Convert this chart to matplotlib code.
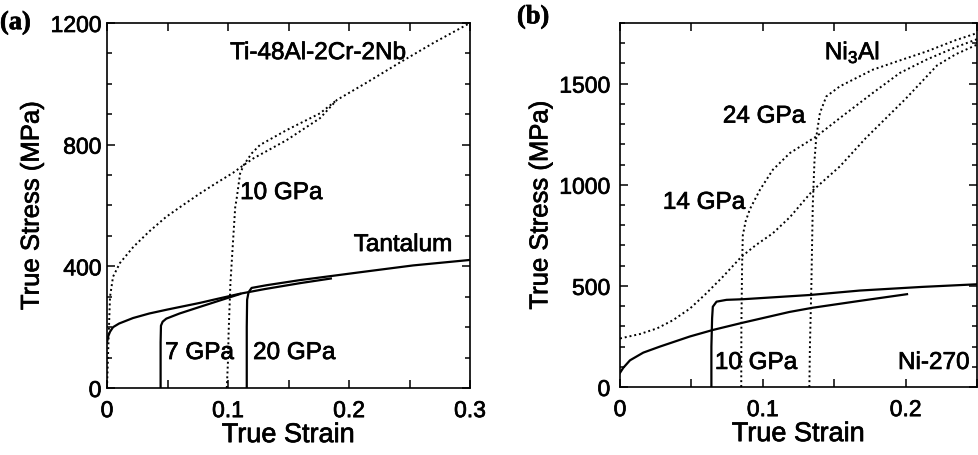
import matplotlib
matplotlib.use("Agg")
import matplotlib.pyplot as plt
import matplotlib.patheffects as pe
from matplotlib.text import Text
from matplotlib.ticker import MultipleLocator

plt.rcParams['font.family'] = ['Liberation Sans', 'DejaVu Sans']
plt.rcParams['mathtext.default'] = 'regular'

# ---- (a) Tantalum and Ti-48Al-2Cr-2Nb ----
ta_qs_strain = [0, 0.001, 0.0025, 0.005, 0.01, 0.0215, 0.035, 0.05, 0.077, 0.09, 0.11, 0.13, 0.16, 0.185]
ta_qs_stress = [150, 170, 185, 200, 212, 230, 245, 258, 280, 292, 310, 325, 345, 360]

ta_7_strain = [0.0443, 0.0443, 0.0446, 0.046, 0.049, 0.06, 0.077, 0.095, 0.11]
ta_7_stress = [0, 150, 205, 218, 228, 245, 267, 290, 309]

ta_20_strain = [0.1155, 0.1155, 0.1158, 0.117, 0.1195, 0.132, 0.16, 0.187, 0.21, 0.253, 0.3]
ta_20_stress = [0, 200, 290, 315, 329, 338, 355, 369, 381, 403, 421]

ti_qs_strain = [0, 0.0005, 0.001, 0.0018, 0.0025, 0.005, 0.0107, 0.0218, 0.035, 0.049, 0.063,
                0.077, 0.09, 0.104, 0.113, 0.121, 0.1485, 0.176, 0.19, 0.215, 0.242, 0.27, 0.3]
ti_qs_stress = [0, 60, 125, 220, 300, 366, 411, 464, 515, 563, 602,
                640, 673, 707, 733, 755, 815, 887, 947, 1005, 1070, 1135, 1200]

ti_10_strain = [0.099, 0.1, 0.1005, 0.102, 0.1046, 0.106, 0.107, 0.11, 0.113, 0.1195, 0.1264, 0.1485, 0.176, 0.19]
ti_10_stress = [0, 90, 181, 345, 510, 597, 618, 705, 733, 771, 799, 848, 903, 947]

# ---- (b) Ni-270 and Ni3Al ----
ni_qs_strain = [0, 0.0023, 0.007, 0.0163, 0.028, 0.049, 0.065, 0.086, 0.1186, 0.135, 0.168, 0.201]
ni_qs_stress = [70, 95, 132, 170, 200, 250, 282, 318, 371, 392, 426, 459]

ni_10_strain = [0.064, 0.064, 0.0645, 0.065, 0.0676, 0.0746, 0.086, 0.133, 0.168, 0.2116, 0.25]
ni_10_stress = [0, 200, 340, 397, 422, 431, 434, 455, 477, 495, 508]

ni3al_qs_strain = [0, 0.014, 0.026, 0.037, 0.049, 0.06, 0.072, 0.085, 0.095, 0.107, 0.119,
                   0.135, 0.154, 0.172, 0.2, 0.222, 0.235, 0.25]
ni3al_qs_stress = [240, 262, 290, 330, 388, 460, 545, 644, 701, 760, 840,
                   972, 1091, 1230, 1425, 1590, 1645, 1693]

ni3al_14_strain = [0.0849, 0.085, 0.0855, 0.086, 0.088, 0.091, 0.098, 0.107, 0.119, 0.1375,
                   0.154, 0.177, 0.196, 0.215, 0.235, 0.25]
ni3al_14_stress = [0, 300, 600, 750, 820, 880, 975, 1074, 1157, 1239,
                   1330, 1454, 1553, 1620, 1680, 1720]

ni3al_24_strain = [0.1326, 0.133, 0.134, 0.135, 0.1362, 0.1375, 0.14, 0.1445, 0.154, 0.177,
                   0.196, 0.215, 0.235, 0.25]
ni3al_24_stress = [0, 200, 500, 900, 1120, 1239, 1355, 1437, 1487, 1569,
                   1615, 1660, 1715, 1750]

SOLID = dict(color='black', lw=1.6, solid_joinstyle='round')
DOTTED = dict(color='black', lw=1.4, linestyle=(0, (1, 1.5)))
TXT = 17.5


def style_axes(ax, xmax, ymax, ymajor, ypad):
    ax.set_xlim(0, xmax)
    ax.set_ylim(0, ymax)
    ax.xaxis.set_major_locator(MultipleLocator(0.1))
    ax.xaxis.set_minor_locator(MultipleLocator(0.05))
    ax.yaxis.set_major_locator(MultipleLocator(ymajor))
    ax.yaxis.set_minor_locator(MultipleLocator(100))
    ax.tick_params(which='both', direction='in', top=True, right=True, width=1.1, colors='black')
    ax.tick_params(axis='x', which='both', length=6, pad=8, labelsize=16.5)
    ax.tick_params(axis='y', which='major', length=6, pad=ypad, labelsize=16.5)
    ax.tick_params(axis='y', which='minor', length=3.5)
    for s in ax.spines.values():
        s.set_linewidth(1.2)
    ax.set_xlabel('True Strain', fontsize=19.5, labelpad=0)
    ax.set_ylabel('True Stress (MPa)', fontsize=18.5, labelpad=5)
    ax.xaxis.set_major_formatter(plt.FuncFormatter(lambda v, p: '0' if v == 0 else f'{v:g}'))


fig = plt.figure(figsize=(9.79, 4.55), dpi=100)
ax1 = fig.add_axes([107 / 979, 1 - 388 / 455, 363 / 979, 365 / 455])
ax2 = fig.add_axes([620 / 979, 1 - 387 / 455, 357 / 979, 364 / 455])

# panel (a)
ax1.plot(ta_qs_strain, ta_qs_stress, **SOLID)
ax1.plot(ta_7_strain, ta_7_stress, **SOLID)
ax1.plot(ta_20_strain, ta_20_stress, **SOLID)
ax1.plot(ti_qs_strain, ti_qs_stress, **DOTTED)
ax1.plot(ti_10_strain, ti_10_stress, **DOTTED)
style_axes(ax1, 0.3, 1200, 400, 4)

ax1.text(0.1017, 1101, 'Ti-48Al-2Cr-2Nb', fontsize=TXT, va='center')
ax1.text(0.110, 641, '10 GPa', fontsize=TXT, va='center')
ax1.text(0.285, 470, 'Tantalum', fontsize=TXT, va='center', ha='right')
ax1.text(0.048, 115, '7 GPa', fontsize=TXT, va='center')
ax1.text(0.1207, 115, '20 GPa', fontsize=TXT, va='center')

# panel (b)
ax2.plot(ni_qs_strain, ni_qs_stress, **SOLID)
ax2.plot(ni_10_strain, ni_10_stress, **SOLID)
ax2.plot(ni3al_qs_strain, ni3al_qs_stress, **DOTTED)
ax2.plot(ni3al_14_strain, ni3al_14_stress, **DOTTED)
ax2.plot(ni3al_24_strain, ni3al_24_stress, **DOTTED)
style_axes(ax2, 0.25, 1800, 500, 7)

ax2.text(0.1434, 1653, 'Ni$_3$Al', fontsize=TXT, va='center')
ax2.text(0.072, 1337, '24 GPa', fontsize=TXT, va='center')
ax2.text(0.030, 911, '14 GPa', fontsize=TXT, va='center')
ax2.text(0.0664, 119, '10 GPa', fontsize=TXT, va='center')
ax2.text(0.2448, 119, 'Ni-270', fontsize=TXT, va='center', ha='right')

fig.text(0 / 979, 1 - 23 / 455, '(a)', fontsize=19, fontweight='bold',
         family='Liberation Serif', va='center', ha='left')
fig.text(517 / 979, 1 - 17 / 455, '(b)', fontsize=19, fontweight='bold',
         family='Liberation Serif', va='center', ha='left')

# slightly heavier glyphs, like the scanned print
for t in fig.findobj(Text):
    t.set_path_effects([pe.withStroke(linewidth=0.5, foreground='black')])

fig.savefig('out.png', dpi=100)
